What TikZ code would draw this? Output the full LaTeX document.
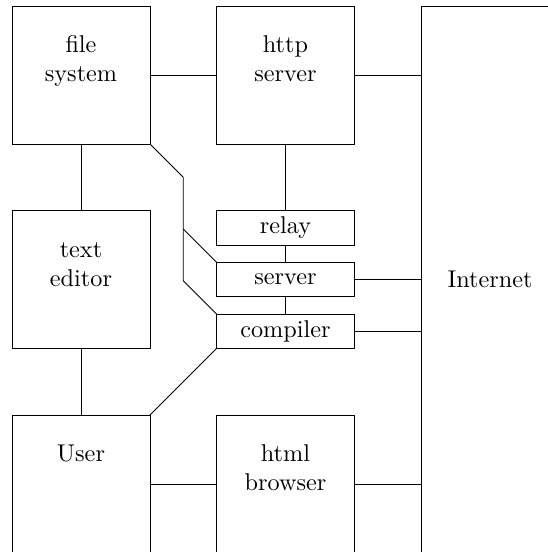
\documentclass[tikz,border=0pt]{standalone}
\begin{document}
\begin{tikzpicture}[x=0.4124pt, y=-0.4124pt,
  bigbox/.style={draw, rectangle, minimum width=56.91pt, minimum height=56.91pt, inner sep=0pt, outer sep=0pt},
  smallbox/.style={draw, rectangle, minimum width=56.91pt, minimum height=14.23pt, inner sep=0pt, outer sep=0pt},
  inetbox/.style={draw, rectangle, minimum width=56.91pt, minimum height=225.58pt, inner sep=0pt, outer sep=0pt},
  lbl/.style={anchor=base, align=center, inner sep=0pt},
  wire/.style={draw, line width=0.4pt}]
\useasboundingbox (0,0) rectangle (547,552);
% boxes
\node[bigbox] (fs) at (81,75) {};
\node[bigbox] (hs) at (285.5,75) {};
\node[inetbox] (inet) at (490,279.5) {Internet};
\node[bigbox] (te) at (81,279.5) {};
\node[smallbox] (relay) at (285.5,227.75) {relay};
\node[smallbox] (srv) at (285.5,279.5) {server};
\node[smallbox] (comp) at (285.5,331.25) {compiler};
\node[bigbox] (user) at (81,484) {};
\node[bigbox] (br) at (285.5,484) {};
% labels (base anchor = baseline of the last line)
\node[lbl] (fsL) at (81,81.6) {file\\system};
\node[lbl] (hsL) at (285.5,81.6) {http\\server};
\node[lbl] (teL) at (81,286.1) {text\\editor};
\node[lbl] (userL) at (81,461.5) {User};
\node[lbl] (brL) at (285.5,490.6) {html\\browser};
% bend points
\coordinate (b1) at (183.25,177.25);
\coordinate (b2) at (183.25,229);
\coordinate (b3) at (183.25,280.75);
% connectors
\draw[wire] (fs.east) -- (hs.west);
\draw[wire] (hs.east) -- (hs.east -| inet.west);
\draw[wire] (fs.south) -- (te.north);
\draw[wire] (hs.south) -- (relay.north);
\draw[wire] (relay.south) -- (srv.north);
\draw[wire] (srv.south) -- (comp.north);
\draw[wire] (srv.east) -- (srv.east -| inet.west);
\draw[wire] (comp.east) -- (comp.east -| inet.west);
\draw[wire] (te.south) -- (user.north);
\draw[wire] (user.east) -- (br.west);
\draw[wire] (br.east) -- (br.east -| inet.west);
\draw[wire] (fs.south east) -- (b1) -- (b3) -- (comp.north west);
\draw[wire] (b2) -- (srv.north west);
\draw[wire] (comp.south west) -- (user.north east);
\end{tikzpicture}
\end{document}
